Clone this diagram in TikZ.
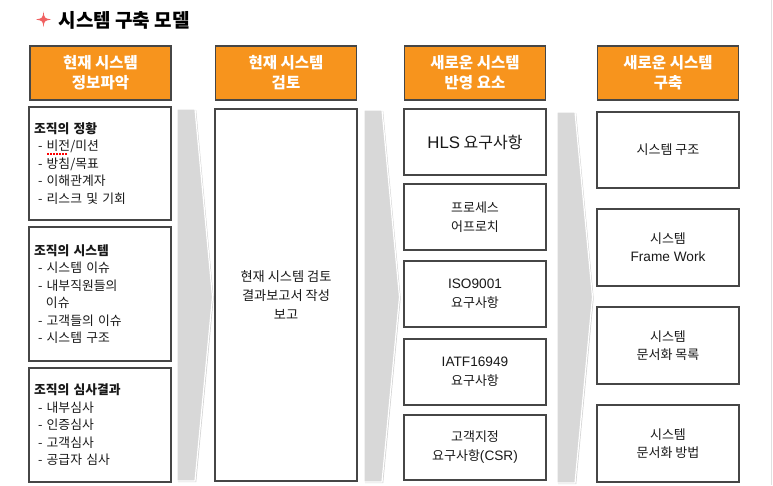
\documentclass[tikz,border=0pt]{standalone}
\usepackage{fontspec}
\setmainfont{Noto Sans CJK KR}
\newfontfamily\lat[Scale=1.05]{Liberation Sans}
\usetikzlibrary{shadows}
\definecolor{kopforange}{RGB}{247,148,29}
\definecolor{rahmen}{RGB}{70,70,70}
\definecolor{pfeilgrau}{RGB}{216,216,216}
\definecolor{sternrot}{RGB}{240,98,98}

\begin{document}
\begin{tikzpicture}[x=1pt,y=-1pt,
        kopf/.style={draw=rahmen, line width=1.3pt, fill=kopforange, text=white,
            minimum width=141pt, minimum height=54pt, inner sep=0pt, align=center,
            font=\fontsize{15.5}{20}\selectfont\bfseries},
        feld/.style={draw=rahmen, line width=1.1pt, fill=white, minimum width=142pt,
            inner sep=0pt, align=center, text=black!90,
            font=\fontsize{13}{19}\selectfont},
        liste/.style={feld, text width=132pt, align=left,
            font=\fontsize{12.8}{17.5}\selectfont},
        pfeil/.style={fill=pfeilgrau, draw=white, line width=1.2pt,
            drop shadow={shadow xshift=1.2pt, shadow yshift=-1.2pt, opacity=.35}}]
        \useasboundingbox (0,0) rectangle (773,485);

        % Titel
        \fill[sternrot] (43.5,11.5) .. controls (44.4,18.2) .. (51,19.5)
            .. controls (44.4,20.8) .. (43.5,27)
            .. controls (42.6,20.8) .. (36,19.5)
            .. controls (42.6,18.2) .. (43.5,11.5) -- cycle;
        \node[anchor=west, font=\fontsize{19}{20}\selectfont\bfseries] (titel) at (55,20) {시스템 구축 모델};

        % Kopfzeile
        \node[kopf] (kopf1) at (100.5,73) {현재 시스템\\정보파악};
        \node[kopf] (kopf2) at (286,73) {현재 시스템\\검토};
        \node[kopf] (kopf3) at (475,73) {새로운 시스템\\반영 요소};
        \node[kopf] (kopf4) at (668,73) {새로운 시스템\\구축};

        % Pfeile
        \foreach \x/\o/\u in {177/109/481, 364/110/482, 557/112/483}
            \draw[pfeil] (\x,\o) -- (\x+18,\o) -- (\x+35.5,297) -- (\x+18,\u) -- (\x,\u) -- cycle;

        % Spalte 1
        \node[liste, minimum height=113pt] (lage) at (100,163.5) {\textbf{조직의 정황}\\
            \hspace*{4pt}- 비전/미션\\
            \hspace*{4pt}- 방침/목표\\
            \hspace*{4pt}- 이해관계자\\
            \hspace*{4pt}- 리스크 및 기회};
        \draw[red, dash pattern=on 1.5pt off 1.5pt, line width=1.6pt] (47,154) -- (68,154);
        \node[liste, minimum height=134pt] (system) at (100,294) {\textbf{조직의 시스템}\\
            \hspace*{4pt}- 시스템 이슈\\
            \hspace*{4pt}- 내부직원들의\\
            \hspace*{12pt}이슈\\
            \hspace*{4pt}- 고객들의 이슈\\
            \hspace*{4pt}- 시스템 구조};
        \node[liste, minimum height=114pt] (audit) at (100,425) {\textbf{조직의 심사결과}\\
            \hspace*{4pt}- 내부심사\\
            \hspace*{4pt}- 인증심사\\
            \hspace*{4pt}- 고객심사\\
            \hspace*{4pt}- 공급자 심사};

        % Spalte 2
        \node[feld, minimum height=372pt, font=\fontsize{13.2}{19}\selectfont] (pruefung) at (286,295)
            {현재 시스템 검토\\결과보고서 작성\\보고};

        % Spalte 3
        \node[feld, minimum height=66pt, font=\fontsize{16}{19}\selectfont] (hls) at (475,142) {{\lat HLS} 요구사항};
        \node[feld, minimum height=66pt] (prozess) at (475,217) {프로세스\\어프로치};
        \node[feld, minimum height=66pt] (iso) at (475,294) {{\lat ISO9001}\\요구사항};
        \node[feld, minimum height=66pt] (iatf) at (475,372) {{\lat IATF16949}\\요구사항};
        \node[feld, minimum height=65pt] (csr) at (475,447.5) {고객지정\\요구사항{\lat (CSR)}};

        % Spalte 4
        \node[feld, minimum height=76pt] (struktur) at (668,150) {시스템 구조};
        \node[feld, minimum height=77pt, font=\fontsize{13}{18}\selectfont] (rahmen) at (668,247.5) {시스템\\{\lat Frame Work}};
        \node[feld, minimum height=77pt, font=\fontsize{13}{18}\selectfont] (liste) at (668,345.5) {시스템\\문서화 목록};
        \node[feld, minimum height=77pt, font=\fontsize{13}{18}\selectfont] (methode) at (668,443.5) {시스템\\문서화 방법};

        \draw[black!12, line width=1pt] (771,0) -- (771,485);
    \end{tikzpicture}
\end{document}
